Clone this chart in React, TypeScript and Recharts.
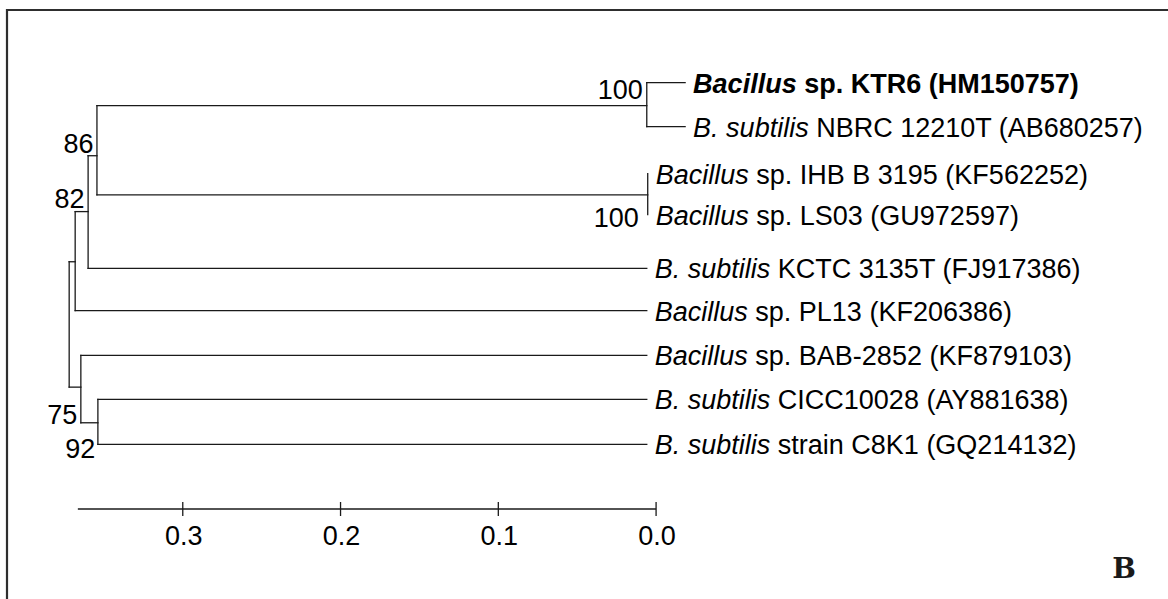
import { ComposedChart, XAxis, YAxis, ReferenceLine, Scatter } from 'recharts'

const FONT = '"Liberation Sans", Arial, Helvetica, sans-serif'
const INK = '#1a1a1a'

// leaves, top to bottom (row = vertical slot, dist = tip position on the distance scale)
const leafIds = ['KTR6', 'NBRC', 'IHB', 'LS03', 'KCTC', 'PL13', 'BAB', 'CICC', 'C8K1']
const leafGenus = ['Bacillus', 'B. subtilis', 'Bacillus', 'Bacillus', 'B. subtilis', 'Bacillus', 'Bacillus', 'B. subtilis', 'B. subtilis']
const leafStrain = [
  'sp. KTR6 (HM150757)',
  'NBRC 12210T (AB680257)',
  'sp. IHB B 3195 (KF562252)',
  'sp. LS03 (GU972597)',
  'KCTC 3135T (FJ917386)',
  'sp. PL13 (KF206386)',
  'sp. BAB-2852 (KF879103)',
  'CICC10028 (AY881638)',
  'strain C8K1 (GQ214132)',
]
const leafDist = [-0.0184, -0.0184, 0.0053, 0.0053, 0.0059, 0.0059, 0.0059, 0.0059, 0.0059]
const leafRow = [0, 1, 2.07, 3.0, 4.22, 5.18, 6.2, 7.2, 8.22]
const focalLeaf = 'KTR6'

// internal nodes
const nodeIds = ['a', 'b', 'c', 'd', 'e', 'f', 'g', 'root']
const nodeDist = [0.0059, 0.0053, 0.3544, 0.36, 0.3682, 0.3538, 0.3646, 0.372]
const nodeRow = [0.523, 2.55, 1.66, 2.93, 4.07, 7.73, 6.92, 5.5]
const nodeChildren = [
  ['KTR6', 'NBRC'],
  ['IHB', 'LS03'],
  ['a', 'b'],
  ['c', 'KCTC'],
  ['d', 'PL13'],
  ['CICC', 'C8K1'],
  ['BAB', 'f'],
  ['e', 'g'],
]
const bootstrap = [100, 100, 86, 82, null, 92, 75, null]

// distance scale bar
const scaleTicks = [0.3, 0.2, 0.1, 0.0]
const scaleStart = 0.3665
const scaleRow = 9.69

// where each support value sits relative to its node (px)
const bootOffset: Record<string, [number, number]> = {
  a: [-4, -6.4],
  b: [-9, 31.7],
  c: [-3.5, -2.4],
  d: [-3.5, -3.7],
  f: [-2.7, 35.3],
  g: [-3.5, 37],
}

const pos = (id: string) => {
  const li = leafIds.indexOf(id)
  if (li >= 0) return { x: leafDist[li], y: leafRow[li] }
  const ni = nodeIds.indexOf(id)
  return { x: nodeDist[ni], y: nodeRow[ni] }
}

type Seg = [{ x: number; y: number }, { x: number; y: number }]
const branches: Seg[] = []
nodeIds.forEach((id, i) => {
  const kids = nodeChildren[i].map(pos)
  const ys = kids.map((k) => k.y)
  branches.push([
    { x: nodeDist[i], y: Math.min(...ys) },
    { x: nodeDist[i], y: Math.max(...ys) },
  ])
  kids.forEach((k) => {
    if (k.x !== nodeDist[i]) branches.push([{ x: nodeDist[i], y: k.y }, { x: k.x, y: k.y }])
  })
})

const leafData = leafIds.map((id, i) => ({
  id,
  x: leafDist[i],
  y: leafRow[i],
  genus: leafGenus[i],
  strain: leafStrain[i],
}))

const supportData = nodeIds
  .map((id, i) => ({ id, x: nodeDist[i], y: nodeRow[i], value: bootstrap[i] }))
  .filter((d) => d.value != null)

const LeafLabel = (props: any) => {
  const { cx, cy, payload } = props
  const bold = payload.id === focalLeaf
  return (
    <text x={cx + 8} y={cy + 10} fontSize={27} fontFamily={FONT} fill="#000" fontWeight={bold ? 700 : 400} style={{ whiteSpace: 'pre' }}>
      <tspan fontStyle="italic">{payload.genus}</tspan>
      <tspan>{' ' + payload.strain}</tspan>
    </text>
  )
}

const SupportLabel = (props: any) => {
  const { cx, cy, payload } = props
  const [dx, dy] = bootOffset[payload.id] || [-4, -4]
  return (
    <text x={cx + dx} y={cy + dy} textAnchor="end" fontSize={27} fontFamily={FONT} fill="#000">
      {payload.value}
    </text>
  )
}

const ScaleTick = (props: any) => {
  const { x, y, payload } = props
  return (
    <g>
      <line x1={x} x2={x} y1={y - 7} y2={y + 7} stroke={INK} strokeWidth={1.3} />
      <text x={x + 1} y={y + 36} textAnchor="middle" fontSize={27} fontFamily={FONT} fill="#000">
        {Number(payload.value).toFixed(1)}
      </text>
    </g>
  )
}

export default function App() {
  return (
    <div style={{ position: 'absolute', left: 0, top: 0, width: 1168, height: 599, background: '#fff' }}>
      <ComposedChart width={1168} height={599} margin={{ top: 16.7, right: 38.6, bottom: 30, left: 25 }}>
        <XAxis
          type="number"
          dataKey="x"
          domain={[-0.3, 0.4]}
          reversed
          ticks={scaleTicks}
          interval={0}
          axisLine={false}
          tickLine={false}
          tickSize={0}
          tickMargin={0}
          height={60}
          tick={<ScaleTick />}
        />
        <YAxis type="number" dataKey="y" domain={[-1.5, scaleRow]} reversed hide width={0} />
        {branches.map((s, i) => (
          <ReferenceLine key={i} segment={s} stroke={INK} strokeWidth={1.3} strokeLinecap="square" ifOverflow="visible" />
        ))}
        <ReferenceLine
          segment={[{ x: scaleStart, y: scaleRow }, { x: 0, y: scaleRow }]}
          stroke={INK}
          strokeWidth={1.5}
          ifOverflow="visible"
        />
        <Scatter data={leafData} dataKey="y" shape={<LeafLabel />} isAnimationActive={false} />
        <Scatter data={supportData} dataKey="y" shape={<SupportLabel />} isAnimationActive={false} />
      </ComposedChart>
      <svg width={1168} height={599} style={{ position: 'absolute', left: 0, top: 0, pointerEvents: 'none' }}>
        <line x1={6} x2={1168} y1={10} y2={10} stroke="#2e2e2e" strokeWidth={2.2} />
        <line x1={7} x2={7} y1={9} y2={599} stroke="#2e2e2e" strokeWidth={2.2} />
        <text x={1124} y={578} textAnchor="middle" fontSize={28} fontWeight={700} fontFamily='"DejaVu Serif", serif' fill="#1a1a1a">
          B
        </text>
      </svg>
    </div>
  )
}
